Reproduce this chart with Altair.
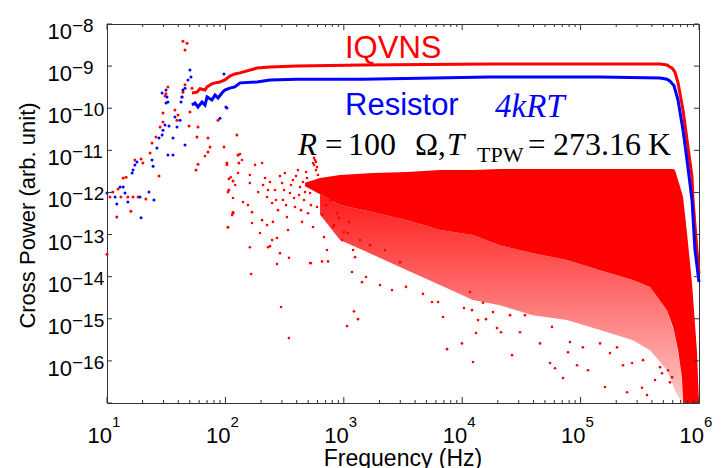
import altair as alt
import pandas as pd

# ---------------- data ----------------
# IQVNS (red) averaged cross power, continuous trace
iqvns_freq = [52.2, 57.5, 61, 67.3, 70, 77, 81.7, 90, 99, 109, 120, 133, 185, 238, 402, 1450,
              17200, 146000, 469000, 537000, 569000, 592000, 627000, 665000, 733000, 807000,
              873000, 890000, 960000, 1000000]
iqvns_power = [2.3e-10, 2.4e-10, 2.9e-10, 2.7e-10, 3.2e-10, 3.8e-10, 4.0e-10, 4.2e-10, 4.7e-10,
               5.8e-10, 6.5e-10, 6.9e-10, 9.0e-10, 9.5e-10, 1.0e-9, 1.06e-9, 1.12e-9, 1.12e-9,
               1.12e-9, 1.06e-9, 9.5e-10, 9.0e-10, 7.2e-10, 4.0e-10, 9.1e-11, 1.2e-11, 2.3e-12,
               6.6e-13, 4.3e-14, 1.2e-14]

# Resistor (blue) trace
resistor_freq = [52.2, 55.3, 58.7, 63.4, 67.3, 70, 77, 81.7, 86.6, 93.5, 99, 109, 120, 133, 185,
                 238, 402, 1450, 17200, 146000, 469000, 537000, 569000, 615000, 665000, 733000,
                 792000, 873000, 925000, 1000000]
resistor_power = [1.19e-10, 1.33e-10, 1.07e-10, 1.4e-10, 1.19e-10, 1.85e-10, 1.57e-10, 2.06e-10,
                  1.75e-10, 2.3e-10, 2.7e-10, 3.0e-10, 3.2e-10, 4.0e-10, 4.2e-10, 4.7e-10, 4.9e-10,
                  4.9e-10, 5.5e-10, 5.5e-10, 5.2e-10, 4.9e-10, 4.4e-10, 3.4e-10, 1.57e-10, 3.0e-11,
                  5.9e-12, 6.6e-13, 4.3e-14, 7.4e-15]

# low-frequency individual bins (red, IQVNS)
red_dot_freq = [10.6, 11.2, 12.1, 12.4, 13.7, 14.5, 15.0, 15.9, 17.2, 19.4, 20.1, 18.3, 21.3, 24.0,
                25.9, 27.5, 29.7, 29.7, 30.9, 31.5, 37.5, 39.8, 43.0, 43.8, 47.4, 45.6, 49.3, 52.2,
                50.2, 58.7, 57.5, 58.7, 56.5, 71.3, 74.1, 71.3, 86.6, 97.3, 103, 107, 116, 105, 116,
                125, 128, 130, 10.0, 32.7, 28.1, 23.1, 39.0, 43.8, 45.6, 13.1, 16.6]
red_dot_power = [7.8e-13, 1.02e-12, 2.6e-13, 1.2e-12, 2.2e-12, 2.3e-12, 7.8e-13, 3.6e-13, 5.9e-12,
                 6.2e-12, 5.0e-12, 7.8e-13, 7.0e-13, 1.49e-11, 2.07e-11, 2.45e-12, 4.7e-11, 7.7e-11,
                 1.95e-10, 2.2e-10, 9.1e-11, 6.9e-11, 1.85e-10, 3.9e-9, 3.5e-9, 2.4e-9, 3.8e-11,
                 3.0e-10, 8.1e-11, 3.6e-11, 2.07e-11, 4.7e-12, 3.4e-12, 1.96e-11, 1.2e-11, 9.1e-12,
                 5.2e-11, 1.2e-11, 5.0e-12, 1.14e-12, 1.87e-12, 1.5e-13, 3.4e-13, 2.3e-11, 7.7e-12,
                 5.0e-12, 3.4e-14, 3.2e-10, 3.6e-11, 8.6e-12, 5.2e-11, 2.4e-10, 3.6e-10, 7.8e-13,
                 7.8e-13]

# low-frequency individual bins (blue, resistor)
blue_dot_freq = [10.0, 11.7, 12.1, 12.9, 13.7, 14.2, 15.0, 16.3, 16.6, 17.2, 17.9, 19.0, 19.4, 22.6,
                 24.9, 24.0, 26.4, 27.5, 29.2, 29.7, 30.9, 31.5, 32.1, 31.5, 33.4, 36.1, 36.1, 39.0,
                 41.4, 43.0, 43.8, 45.6, 50.2, 51.2, 97.3, 90.0, 103, 29.2, 32.7, 37.5, 42.2, 45.6,
                 48.3, 32.7, 24.5, 101]
blue_dot_power = [9.7e-13, 7.8e-13, 5.3e-13, 1.34e-12, 1.34e-12, 9.7e-13, 5.9e-13, 2.9e-12,
                  3.4e-12, 4.5e-12, 5.3e-12, 7.8e-13, 2.5e-13, 1.02e-12, 6.6e-13, 5.9e-12, 1.13e-11,
                  1.96e-11, 2.3e-11, 3.0e-11, 4.0e-11, 1.33e-10, 1.85e-10, 2.7e-10, 3.8e-11,
                  1.96e-11, 7.7e-12, 3.6e-11, 5.2e-11, 1.85e-10, 2.7e-10, 1.34e-11, 8.1e-10, 5.5e-10,
                  6.5e-10, 5.8e-11, 1.01e-10, 2.3e-10, 1.4e-10, 6.2e-11, 1.4e-10, 3.0e-10, 4.7e-10,
                  7.7e-12, 4.2e-12, 1.07e-10]

# solid part of the red cross-correlation cloud (upper / lower edge)
cloud_freq = [470, 630, 929, 1766, 3420, 6494, 12300, 20800, 39600, 76700, 146000, 277000, 386000,
              537000, 603000, 627000, 665000, 718000, 733000, 792000, 873000, 960000, 1000000]
cloud_top = [1.7e-12, 2.2e-12, 2.6e-12, 2.9e-12, 3.05e-12, 3.4e-12, 3.4e-12, 3.6e-12, 3.6e-12,
             3.6e-12, 3.6e-12, 3.6e-12, 3.6e-12, 3.6e-12, 3.6e-12, 3.4e-12, 1.97e-12, 9.7e-13,
             7.8e-13, 1.09e-13, 7.0e-15, 1.8e-16, 1e-17]
cloud_bottom = [1.4e-12, 9.0e-13, 5.0e-13, 3.4e-13, 2.2e-13, 1.28e-13, 9.7e-14, 5.6e-14, 3.6e-14,
                2.5e-14, 1.43e-14, 8.3e-15, 5.7e-15, 1.6e-15, 6.4e-16, 4.1e-16, 1.8e-16, 4.1e-17,
                1e-17, 1e-17, 1e-17, 1e-17, 1e-17]

# speckled fringe below the solid cloud
fringe_freq = [630, 929, 1766, 3420, 6494, 12300, 20800, 39600, 76700, 146000, 277000, 386000,
               537000, 627000, 718000]
fringe_top = [9.0e-13, 5.0e-13, 3.4e-13, 2.2e-13, 1.28e-13, 9.7e-14, 5.6e-14, 3.6e-14, 2.5e-14,
              1.43e-14, 8.3e-15, 5.7e-15, 1.6e-15, 4.1e-16, 4.1e-17]
fringe_bottom = [3.0e-13, 7.4e-14, 3.3e-14, 1.43e-14, 6.3e-15, 2.8e-15, 2.1e-15, 1.22e-15, 9.3e-16,
                 5.4e-16, 3.1e-16, 1.8e-16, 6.0e-17, 2.0e-17, 1e-17]

# scattered cloud points (frequency Hz, power)
cloud_left_pts = [(67.2, 7.3e-12), (103, 4.5e-12), (128, 7.7e-12), (133, 8.2e-12), (138, 5.9e-12),
                  (128, 2.9e-12), (107, 2.1e-12), (111, 2.3e-12), (105, 1.02e-12), (116, 7.4e-13),
                  (121, 1.5e-12), (141, 5.9e-13), (116, 3.2e-13), (114, 2.9e-13), (161, 2.6e-12),
                  (161, 1.67e-12), (178, 4.5e-12), (204, 5.0e-12), (168, 3.4e-13), (155, 5.0e-13),
                  (161, 5.0e-14), (165, 1.15e-14), (196, 1.09e-13), (248, 7.4e-14), (273, 8.3e-14),
                  (229, 5.0e-14), (238, 5.3e-14), (289, 3.6e-14), (273, 2.0e-14), (344, 2.8e-14),
                  (168, 1.88e-13), (295, 1.9e-15), (344, 3.5e-16), (528, 2.1e-14), (655, 2.3e-14),
                  (736, 2.3e-14)]
cloud_mid_pts = [(189, 1.02e-12), (208, 1.5e-12), (225, 7.8e-13), (238, 1.77e-12), (248, 5.6e-13),
                 (262, 1.14e-12), (278, 3.8e-13), (301, 1.67e-12), (306, 6.6e-13), (318, 2.9e-12),
                 (331, 2.6e-13), (351, 9.7e-13), (372, 1.97e-12), (387, 4.5e-13), (410, 3.4e-12),
                 (427, 1.34e-12), (444, 2.0e-13), (461, 6.6e-13), (489, 2.2e-12), (499, 3.2e-13),
                 (519, 9.7e-13), (549, 5.0e-12), (571, 5.9e-12), (582, 3.4e-12), (594, 4.5e-13),
                 (549, 1.51e-13), (630, 1.34e-12), (681, 8.7e-14), (721, 4.3e-14), (780, 6.6e-13),
                 (811, 1.51e-13), (877, 3.2e-13), (966, 7.4e-14), (1086, 1.09e-13), (1197, 4.3e-14),
                 (1245, 2.9e-14), (519, 2.1e-14), (1172, 1.29e-14), (338, 1.28e-13), (252, 2.0e-13),
                 (204, 2.2e-13), (225, 1.68e-13), (560, 4.5e-12), (605, 2.6e-12),
                 (216, 2.2e-12), (229, 1.14e-12), (267, 6.6e-13), (289, 2.45e-12), (313, 1.14e-12),
                 (325, 5.0e-13), (358, 1.5e-12), (380, 7.4e-13), (395, 2.45e-12), (419, 8.7e-13),
                 (435, 3.8e-13), (452, 1.77e-12), (470, 1.02e-12), (480, 3.05e-12), (508, 1.5e-12),
                 (528, 5.0e-13), (655, 2.9e-13), (708, 5.0e-13), (826, 1.68e-13), (910, 2.5e-13),
                 (1004, 1.15e-13), (1107, 2.0e-13), (1371, 7.4e-14), (1663, 5.6e-14),
                 (2228, 4.3e-14), (2985, 2.2e-14), (560, 6.6e-12), (582, 5.3e-12), (594, 4.0e-12)]
cloud_low_pts = [(1064, 6.7e-16), (1220, 1.5e-15), (1318, 9.8e-16), (1541, 9.8e-15), (1426, 7.4e-15),
                 (2023, 6.3e-15), (2553, 4.8e-15), (3350, 5.7e-15), (4667, 3.9e-15), (5559, 2.5e-15),
                 (6252, 2.5e-15), (6887, 1.1e-15), (7447, 1.9e-16), (9954, 2.6e-16), (12340, 9.4e-17),
                 (12100, 1.6e-15), (10350, 1.8e-15), (13090, 4.6e-16), (13600, 9.3e-16),
                 (15890, 9.8e-16), (19670, 6.0e-16), (21280, 4.8e-16), (26360, 1.37e-16),
                 (25350, 1.22e-15), (30790, 4.8e-16), (33900, 1.22e-15), (18200, 1.44e-15),
                 (15000, 2.4e-15), (11640, 4.3e-15), (45390, 2.6e-16), (55190, 8.9e-17),
                 (57300, 6.4e-16), (60800, 6.7e-17), (71000, 3.9e-17), (78300, 1.6e-16),
                 (81300, 2.8e-16), (93300, 7.9e-17), (104700, 2.1e-16), (115500, 6.0e-17),
                 (146000, 2.6e-16), (160800, 2.4e-17), (177200, 1.53e-16), (203000, 2.1e-16),
                 (228000, 7.9e-17), (247000, 1.8e-17), (272000, 8.9e-17), (330000, 2.3e-17),
                 (337000, 1.04e-16), (364000, 1.54e-17), (425000, 3.5e-17), (469000, 7.1e-17),
                 (487000, 5.1e-17), (547000, 6.0e-17), (569000, 3.1e-17), (592000, 4.1e-17)]

# axis ticks / labels
x_major = [10, 100, 1e3, 1e4, 1e5, 1e6]
x_exp = ["1", "2", "3", "4", "5", "6"]
x_minor = [m * d for d in [10, 100, 1e3, 1e4, 1e5] for m in range(2, 10)]
y_major = [1e-17, 1e-16, 1e-15, 1e-14, 1e-13, 1e-12, 1e-11, 1e-10, 1e-9, 1e-8]
y_label_vals = [1e-16, 1e-15, 1e-14, 1e-13, 1e-12, 1e-11, 1e-10, 1e-9, 1e-8]
y_exp = ["\u221216", "\u221215", "\u221214", "\u221213", "\u221212", "\u221211", "\u221210",
         "\u22129", "\u22128"]

# ---------------- chart ----------------
W, H = 592, 379
RED, BLUE = "#ff0000", "#0000ff"
SANS, SERIF = "Liberation Sans", "Liberation Serif"
xs = alt.Scale(type="log", domain=[10, 1e6])
ys = alt.Scale(type="log", domain=[1e-17, 1e-8])


def X(f):
    return alt.X(f, type="quantitative", scale=xs, axis=None)


def Y(f):
    return alt.Y(f, type="quantitative", scale=ys, axis=None)


pts = cloud_left_pts + cloud_mid_pts + cloud_low_pts
cloud_pts_df = pd.DataFrame(pts, columns=["f", "p"])
cloud_df = pd.DataFrame({"f": cloud_freq, "top": cloud_top, "bot": cloud_bottom})
fringe_df = pd.DataFrame({"f": fringe_freq, "top": fringe_top, "bot": fringe_bottom})

fringe_fill = alt.Gradient(
    gradient="linear", x1=0, x2=0, y1=0, y2=1,
    stops=[alt.GradientStop(color="#ff1a1a", offset=0),
           alt.GradientStop(color="#ff6a6a", offset=0.45),
           alt.GradientStop(color="#ffc8c8", offset=1)])
fringe = alt.Chart(fringe_df).mark_area(color=fringe_fill, interpolate="linear").encode(
    x=X("f"), y=Y("top"), y2=alt.Y2("bot"))
cloud = alt.Chart(cloud_df).mark_area(color=RED, opacity=1, interpolate="linear").encode(
    x=X("f"), y=Y("top"), y2=alt.Y2("bot"))
cloud_pts = alt.Chart(cloud_pts_df).mark_circle(color=RED, size=7, opacity=1).encode(
    x=X("f"), y=Y("p"))

red_line = alt.Chart(pd.DataFrame({"f": iqvns_freq, "p": iqvns_power})).mark_line(
    color=RED, strokeWidth=3).encode(x=X("f"), y=Y("p"))
blue_line = alt.Chart(pd.DataFrame({"f": resistor_freq, "p": resistor_power})).mark_line(
    color=BLUE, strokeWidth=3).encode(x=X("f"), y=Y("p"))
red_dots = alt.Chart(pd.DataFrame({"f": red_dot_freq, "p": red_dot_power})).mark_circle(
    color=RED, size=9, opacity=1).encode(x=X("f"), y=Y("p"))
blue_dots = alt.Chart(pd.DataFrame({"f": blue_dot_freq, "p": blue_dot_power})).mark_circle(
    color=BLUE, size=9, opacity=1).encode(x=X("f"), y=Y("p"))

AX = "#333333"
xmaj_df = pd.DataFrame({"f": x_major, "e": x_exp})
xmin_df = pd.DataFrame({"f": x_minor})
ymaj_df = pd.DataFrame({"p": y_major})
ylab_df = pd.DataFrame({"p": y_label_vals, "e": y_exp})

ticks = [
    alt.Chart(xmaj_df).mark_rule(color=AX).encode(x=X("f"), y=alt.value(H), y2=alt.value(H - 6)),
    alt.Chart(xmaj_df).mark_rule(color=AX).encode(x=X("f"), y=alt.value(0), y2=alt.value(6)),
    alt.Chart(xmin_df).mark_rule(color=AX).encode(x=X("f"), y=alt.value(H), y2=alt.value(H - 3)),
    alt.Chart(xmin_df).mark_rule(color=AX).encode(x=X("f"), y=alt.value(0), y2=alt.value(3)),
    alt.Chart(ymaj_df).mark_rule(color=AX).encode(y=Y("p"), x=alt.value(0), x2=alt.value(5)),
    alt.Chart(ymaj_df).mark_rule(color=AX).encode(y=Y("p"), x=alt.value(W), x2=alt.value(W - 5)),
]

labels = [
    alt.Chart(xmaj_df).mark_text(font=SANS, fontSize=22, align="right", baseline="alphabetic",
                                 dx=5, color="black", text="10").encode(
        x=X("f"), y=alt.value(H + 40)),
    alt.Chart(xmaj_df).mark_text(font=SANS, fontSize=15, align="left", baseline="alphabetic",
                                 dx=5, color="black").encode(
        x=X("f"), y=alt.value(H + 24), text="e:N"),
    alt.Chart(ylab_df).mark_text(font=SANS, fontSize=22, align="right", baseline="alphabetic",
                                 dy=15, color="black", text="10").encode(
        y=Y("p"), x=alt.value(-35)),
    alt.Chart(ylab_df).mark_text(font=SANS, fontSize=19, align="left", baseline="alphabetic",
                                 dy=8, color="black").encode(
        y=Y("p"), x=alt.value(-35), text="e:N"),
]


def note(txt, x, y, size, color="black", font=SANS, style="normal"):
    return alt.Chart(pd.DataFrame({"t": [txt]})).mark_text(
        font=font, fontSize=size, fontStyle=style, color=color, align="left",
        baseline="alphabetic").encode(x=alt.value(x), y=alt.value(y), text="t:N")


notes = [
    note("IQVNS", 238, 34, 31, RED),
    note("Resistor", 238, 91, 31, BLUE),
    note("4kRT", 388, 93, 33, BLUE, SERIF, "italic"),
    note("R", 191, 131, 31, "black", SERIF, "italic"),
    note("=", 218, 131, 31, "black", SERIF),
    note("100", 241, 131, 32, "black", SERIF),
    note("\u03a9,", 308, 131, 31, "black", SERIF),
    note("T", 340, 131, 31, "black", SERIF, "italic"),
    note("TPW", 370, 138, 22, "black", SERIF),
    note("=", 421, 131, 31, "black", SERIF),
    note("273.16", 446, 131, 32, "black", SERIF),
    note("K", 541, 131, 32, "black", SERIF),
]

titles = [
    alt.Chart(pd.DataFrame({"t": ["Frequency (Hz)"]})).mark_text(
        font=SANS, fontSize=23, align="center", baseline="alphabetic", color="black").encode(
        x=alt.value(W / 2), y=alt.value(442), text="t:N"),
    alt.Chart(pd.DataFrame({"t": ["Cross Power (arb. unit)"]})).mark_text(
        font=SANS, fontSize=22, align="center", baseline="middle", angle=270, color="black").encode(
        x=alt.value(-79), y=alt.value(H / 2 + 2), text="t:N"),
]

chart = alt.layer(
    fringe, cloud, cloud_pts, red_line, blue_line, red_dots, blue_dots,
    *ticks, *labels, *notes, *titles
).properties(
    width=W, height=H,
    padding={"left": 99, "top": 16, "right": 14, "bottom": 70},
    autosize=alt.AutoSizeParams(type="none"),
    background="white",
).configure_view(stroke=AX, strokeWidth=1)

chart.save("out.html", embed_options={"renderer": "svg", "actions": False})
